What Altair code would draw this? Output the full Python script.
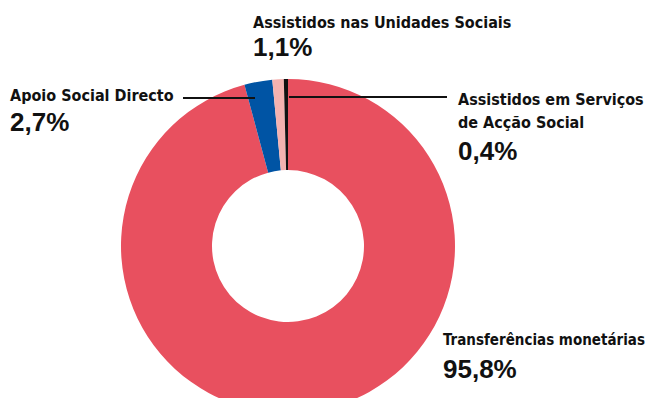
import altair as alt
import pandas as pd

# ---- data ----
categories = [
    "Transferências monetárias",
    "Apoio Social Directo",
    "Assistidos nas Unidades Sociais",
    "Assistidos em Serviços de Acção Social",
]
values = [95.8, 2.7, 1.1, 0.4]
colors = ["#E8505F", "#0054A4", "#F4B2B0", "#111111"]

label_lines = [
    "Transferências monetárias",
    "Apoio Social Directo",
    "Assistidos nas Unidades Sociais",
    "Assistidos em Serviços\nde Acção Social",
]

# ---- layout (pixel positions inside the chart area) ----
cx, cy = 280, 238
label_x = [435, 2, 245, 450]
label_y = [337, 93, 20, 97]          # baseline of first line
pct_y = [370, 123, 48, 152]          # baseline of percentage
name_size = [15, 16, 16, 16]

lead_x = [175, 281]
lead_x2 = [247, 439]
lead_y = [90, 89]

def pct(v):
    return f"{v:.1f}".replace(".", ",") + "%"

df = pd.DataFrame({
    "category": categories,
    "value": values,
    "idx": list(range(len(categories))),
})

lab = pd.DataFrame({
    "category": categories,
    "name": label_lines,
    "pct": [pct(v) for v in values],
    "lx": label_x,
    "ly": label_y,
    "py": pct_y,
    "fs": name_size,
})

lead = pd.DataFrame({"x": lead_x, "x2": lead_x2, "y": lead_y})

arc = alt.Chart(df).mark_arc(innerRadius=76, outerRadius=167).encode(
    theta=alt.Theta("value:Q", stack=True),
    color=alt.Color("category:N", scale=alt.Scale(domain=categories, range=colors), legend=None),
    order=alt.Order("idx:Q"),
    x=alt.value(cx),
    y=alt.value(cy),
)

rules = alt.Chart(lead).mark_rule(color="#111111", strokeWidth=2).encode(
    x=alt.X("x:Q", scale=None),
    x2="x2:Q",
    y=alt.Y("y:Q", scale=None),
)

names = alt.Chart(lab).mark_text(
    font="'DejaVu Sans Condensed', 'Liberation Sans Narrow', 'Arial Narrow', sans-serif",
    fontWeight="bold",
    align="left", baseline="alphabetic", lineBreak="\n", lineHeight=23, color="#111111",
).encode(
    x=alt.X("lx:Q", scale=None),
    y=alt.Y("ly:Q", scale=None),
    size=alt.Size("fs:Q", scale=None, legend=None),
    text="name:N",
)

pcts = alt.Chart(lab).mark_text(
    font="Liberation Sans", fontWeight="bold", fontSize=26,
    align="left", baseline="alphabetic", color="#111111",
).encode(
    x=alt.X("lx:Q", scale=None),
    y=alt.Y("py:Q", scale=None),
    text="pct:N",
)

chart = alt.layer(arc, rules, names, pcts).properties(
    width=645, height=390,
    autosize=alt.AutoSizeParams(type="none"),
    padding=0,
    background="white",
).configure_view(stroke=None)

chart.save("out.html", embed_options={"renderer": "svg", "actions": False})
